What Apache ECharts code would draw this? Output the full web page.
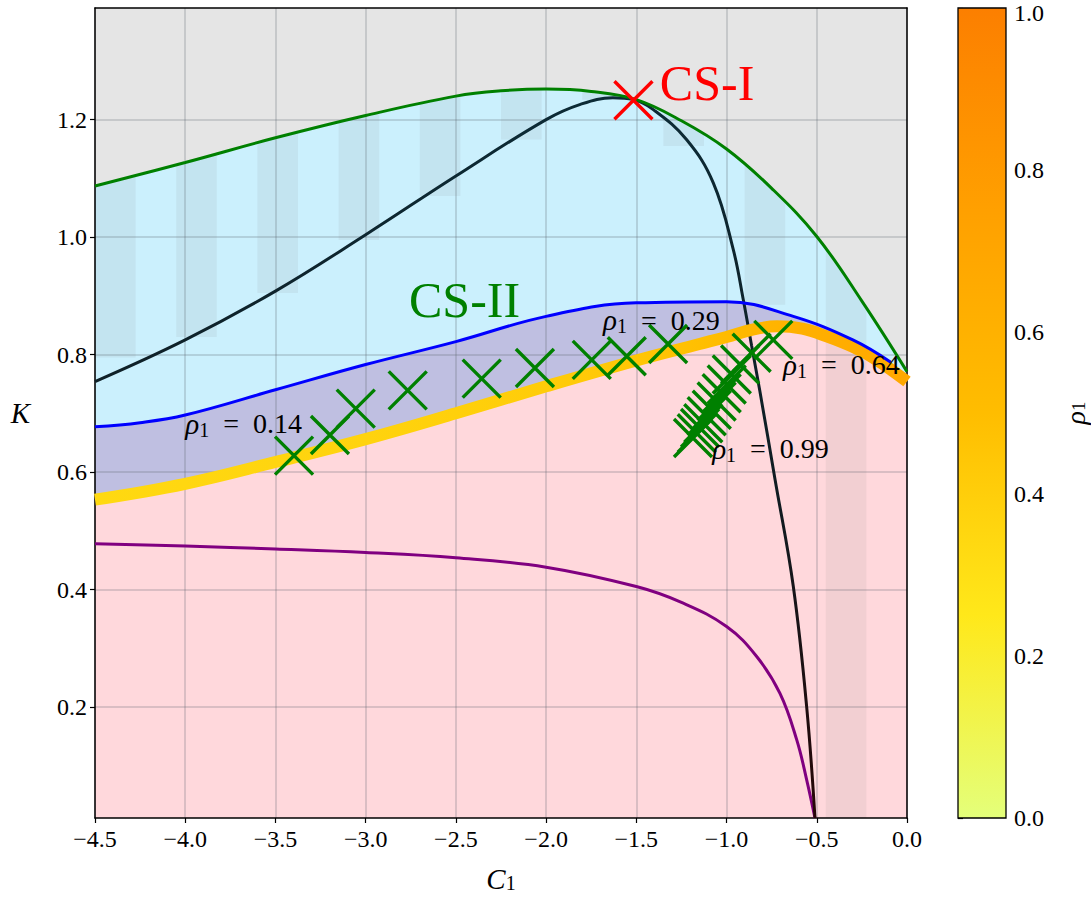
<!DOCTYPE html>
<html><head><meta charset="utf-8">
<script src="https://cdn.jsdelivr.net/npm/echarts@6/dist/echarts.min.js"></script>
<style>html,body{margin:0;padding:0;background:#fff}#c{width:1091px;height:899px}</style>
</head><body><div id="c"></div>
<script>
// ---------- data ----------
const greenX = [-4.5,-4.0,-3.5,-3.0,-2.5,-2.25,-2.0,-1.75,-1.5,-1.25,-1.0,-0.75,-0.5,-0.25,0.0];
const greenK = [1.087,1.127,1.169,1.207,1.240,1.249,1.252,1.248,1.234,1.198,1.150,1.083,1.001,0.891,0.771];

const blackX = [-4.5,-4.0,-3.5,-3.0,-2.5,-2.0,-1.81,-1.63,-1.516,-1.406,-1.222,-1.073,-0.963,-0.907,-0.861,-0.815,-0.731,-0.63,-0.556,-0.51];
const blackK = [0.754,0.825,0.908,1.004,1.104,1.200,1.226,1.237,1.234,1.217,1.166,1.092,0.979,0.893,0.815,0.737,0.587,0.405,0.200,0.011];

const blueX = [-4.5,-4.25,-4.0,-3.5,-3.0,-2.5,-2.0,-1.5,-1.0,-0.63,-0.3,-0.09];
const blueK = [0.677,0.684,0.697,0.740,0.783,0.822,0.865,0.888,0.890,0.865,0.825,0.787];

const thickX = [-4.5,-4.0,-3.5,-3.0,-2.5,-2.0,-1.5,-1.15,-1.0,-0.85,-0.72,-0.58,-0.445,-0.3,-0.168,0.0];
const thickK = [0.553,0.580,0.617,0.656,0.700,0.746,0.790,0.818,0.830,0.843,0.848,0.844,0.831,0.813,0.791,0.754];
const thickRho = [0.34,0.35,0.36,0.37,0.39,0.41,0.45,0.49,0.52,0.56,0.58,0.61,0.63,0.65,0.66,0.68];

const purpleX = [-4.5,-4.0,-3.5,-3.0,-2.5,-2.0,-1.5,-1.25,-1.0,-0.833,-0.704,-0.611,-0.556,-0.51];
const purpleK = [0.478,0.474,0.469,0.463,0.454,0.438,0.405,0.378,0.337,0.286,0.223,0.144,0.076,0.011];

const markerX = [-3.397,-3.198,-3.055,-2.767,-2.357,-2.062,-1.747,-1.553,-1.324,-0.741,-0.861,-0.925,-0.971,-0.999,-1.027,-1.055,-1.082,-1.110,-1.129,-1.147,-1.165,-1.186];
const markerK = [0.628,0.663,0.708,0.739,0.759,0.777,0.791,0.797,0.818,0.825,0.803,0.783,0.766,0.749,0.734,0.720,0.706,0.695,0.683,0.675,0.666,0.658];

const csIX = [-1.516];
const csIK = [1.233];

const stripeX0 = [-4.5,-4.05,-3.6,-3.15,-2.7,-2.25,-1.8,-1.35,-0.9,-0.45];
const stripeBottom = [0.795,0.83,0.905,0.995,1.07,1.166,1.234,1.155,0.885,0.011];

const csLabelText = ['CS-I','CS-II'];
const csLabelX = [-1.37,-2.76];
const csLabelK = [1.262,0.893];

const rhoLabelText = ['0.14','0.29','0.64','0.99'];
const rhoLabelX = [-4.00,-1.685,-0.687,-1.08];
const rhoLabelK = [0.682,0.858,0.783,0.640];

const xTickStep = 0.5;
const yTicks = [0.2,0.4,0.6,0.8,1.0,1.2];
const cbTickStep = 0.2;

// ---------- styles ----------
const X_MIN = -4.5, X_MAX = 0.0, Y_MIN = 0.011, Y_MAX = 1.39;
const STRIPE_W = 0.225;
const FONT = "'Liberation Serif', 'Times New Roman', serif";
const wistiaPos = [0, 0.25, 0.5, 0.75, 1];
const wistiaRGB = [[228,255,122],[255,232,26],[255,189,0],[255,160,0],[252,127,0]];
function wistia(t){
  t = Math.max(0, Math.min(1, t));
  let i = 0;
  while (i < wistiaPos.length - 2 && t > wistiaPos[i+1]) i++;
  const f = (t - wistiaPos[i]) / (wistiaPos[i+1] - wistiaPos[i]);
  const a = wistiaRGB[i], b = wistiaRGB[i+1];
  const c = a.map((v,k)=>Math.round(v + (b[k]-v)*f));
  return 'rgb(' + c.join(',') + ')';
}
const zip = (xs, ys) => xs.map((x,i)=>[x, ys[i]]);
const fmtNum = v => (v < -1e-9 ? '\u2212' : '') + Math.abs(v).toFixed(1);
const gridLine = {show:true, lineStyle:{color:'rgba(90,100,110,0.30)', width:1.5}};
const tickStyle = {show:true, inside:false, length:5, lineStyle:{color:'#000', width:1.2}};
const labelStyle = {color:'#000', fontFamily:FONT, fontSize:24, lineHeight:14};
function subRich(mainSize, mainLH, subSize, subLH){
  return {
    i:{fontFamily:FONT, fontStyle:'italic', fontSize:mainSize, color:'#000', lineHeight:mainLH},
    s:{fontFamily:FONT, fontSize:subSize, color:'#000', verticalAlign:'bottom', lineHeight:subLH},
    t:{fontFamily:FONT, fontSize:mainSize - 1, color:'#000', lineHeight:mainLH}
  };
}
const richLabel = subRich(29, 32, 20, 18);
const richName = subRich(29, 28, 20, 14);
const richCb = subRich(28, 26, 19, 12);
const cbLabelRich = {top:{fontFamily:FONT, fontSize:24, color:'#000', lineHeight:14, padding:[10,0,0,0]}};

const thickGradient = new echarts.graphic.LinearGradient(0,0,1,0,
  thickX.map((x,i)=>({offset:(x - X_MIN)/(X_MAX - X_MIN), color:wistia(thickRho[i])})));
const blackGradient = new echarts.graphic.LinearGradient(0,0,0,1,[
  {offset:0, color:'#0c2b36'},{offset:0.55, color:'#101c22'},{offset:1, color:'#260606'}]);
const cbGradient = new echarts.graphic.LinearGradient(0,1,0,0,
  wistiaPos.map((p,i)=>({offset:p, color:'rgb(' + wistiaRGB[i].join(',') + ')'})));

const xSym = 'path://M0 0L1 1M1 0L0 1';
const smooth = 0.4;

const chart = echarts.init(document.getElementById('c'), null, {renderer:'svg'});
chart.setOption({
  animation:false,
  backgroundColor:'#fff',
  grid:[
    {left:95, top:8, width:812, height:810, show:true, backgroundColor:'#cbf0fd', borderWidth:0,
     containLabel:false, outerBoundsMode:'none'},
    {left:958, top:8, width:48, height:810, show:false, containLabel:false, outerBoundsMode:'none'}
  ],
  xAxis:[
    {type:'value', gridIndex:0, min:X_MIN, max:X_MAX, interval:xTickStep, z:5,
     axisLine:{show:true, onZero:false, lineStyle:{color:'#000', width:1.5}},
     axisTick:tickStyle, axisLabel:Object.assign({formatter:fmtNum, margin:14}, labelStyle),
     splitLine:gridLine,
     name:'{i|C}{s|1}', nameLocation:'middle', nameGap:47,
     nameTextStyle:{rich:richName}},
    {type:'value', gridIndex:0, position:'top', min:X_MIN, max:X_MAX, z:5,
     axisLine:{show:true, onZero:false, lineStyle:{color:'#000', width:1.5}},
     axisTick:{show:false}, axisLabel:{show:false}, splitLine:{show:false}},
    {type:'value', gridIndex:1, min:0, max:1, show:false}
  ],
  yAxis:[
    {type:'value', gridIndex:0, min:Y_MIN, max:Y_MAX, z:5,
     axisLine:{show:true, onZero:false, lineStyle:{color:'#000', width:1.5}},
     axisTick:Object.assign({customValues:yTicks}, tickStyle),
     axisLabel:Object.assign({customValues:yTicks, formatter:v=>v.toFixed(1), margin:8}, labelStyle),
     splitLine:gridLine,
     name:'{i|K}', nameLocation:'middle', nameRotate:0, nameGap:65,
     nameTextStyle:{rich:richName}},
    {type:'value', gridIndex:0, position:'right', min:Y_MIN, max:Y_MAX, z:5,
     axisLine:{show:true, onZero:false, lineStyle:{color:'#000', width:1.5}},
     axisTick:{show:false}, axisLabel:{show:false}, splitLine:{show:false}},
    {type:'value', gridIndex:1, position:'right', min:0, max:1, interval:cbTickStep,
     axisLine:{show:false}, axisTick:tickStyle,
     axisLabel:Object.assign({formatter:v=> v >= 1 ? '{top|' + v.toFixed(1) + '}' : v.toFixed(1),
       margin:8, rich:cbLabelRich}, labelStyle),
     splitLine:{show:false},
     name:'{i|ρ}{s|1}', nameLocation:'middle', nameRotate:90, nameGap:56,
     nameTextStyle:{rich:richCb}}
  ],
  series:[
    {name:'lavenderFill', type:'line', data:zip(blueX, blueK), smooth:smooth, symbol:'none', silent:true, z:1,
     lineStyle:{width:0}, areaStyle:{color:'#bfbfe1', opacity:1, origin:'start'}},
    {name:'pinkFill', type:'line', data:zip(thickX, thickK), smooth:smooth, symbol:'none', silent:true, z:2,
     lineStyle:{width:0}, areaStyle:{color:'#ffd8dc', opacity:1, origin:'start'}},
    {name:'stripes', type:'custom', silent:true, z:3,
     data:zip(stripeX0, stripeBottom),
     renderItem:function(params, api){
       const x0 = api.value(0), b = api.value(1);
       const p0 = api.coord([x0, Y_MAX]);
       const p1 = api.coord([x0 + STRIPE_W, b]);
       return {type:'rect', shape:{x:p0[0], y:p0[1], width:p1[0]-p0[0], height:p1[1]-p0[1]},
               style:{fill:'rgba(128,128,128,0.10)'}};
     }},
    {name:'grayFill', type:'line', data:zip(greenX, greenK), smooth:smooth, symbol:'none', silent:true, z:4,
     lineStyle:{width:0}, areaStyle:{color:'#e5e5e5', opacity:1, origin:'end'}},
    {name:'purple', type:'line', data:zip(purpleX, purpleK), smooth:smooth, symbol:'none', z:6,
     lineStyle:{color:'#800080', width:3}},
    {name:'black', type:'line', data:zip(blackX, blackK), smooth:smooth, symbol:'none', z:6,
     lineStyle:{color:blackGradient, width:3}},
    {name:'green', type:'line', data:zip(greenX, greenK), smooth:smooth, symbol:'none', z:6,
     lineStyle:{color:'#008000', width:3}},
    {name:'thick', type:'line', data:zip(thickX, thickK), smooth:smooth, symbol:'none', z:7,
     lineStyle:{color:thickGradient, width:12}},
    {name:'blue', type:'line', data:zip(blueX, blueK), smooth:smooth, symbol:'none', z:8,
     lineStyle:{color:'#0000ff', width:3}},
    {name:'markers', type:'scatter', data:zip(markerX, markerK), symbol:xSym, symbolSize:38, z:9,
     itemStyle:{color:'transparent', borderColor:'#008000', borderWidth:3.4, opacity:1}},
    {name:'csI', type:'scatter', data:zip(csIX, csIK), symbol:xSym, symbolSize:38, z:9,
     itemStyle:{color:'transparent', borderColor:'#ff0000', borderWidth:3.4, opacity:1}},
    {name:'csLabels', type:'scatter', z:10, silent:true, symbolSize:0.1,
     itemStyle:{color:'transparent', opacity:1},
     data:csLabelX.map((x,i)=>({value:[x, csLabelK[i]], label:{color: i===0 ? '#ff0000' : '#008000'}})),
     label:{show:true, position:'right', distance:0, fontFamily:FONT, fontSize:50,
       formatter:p=>csLabelText[p.dataIndex]}},
    {name:'rhoLabels', type:'scatter', data:zip(rhoLabelX, rhoLabelK), symbolSize:0.1, z:10, silent:true,
     itemStyle:{color:'transparent', opacity:1},
     label:{show:true, position:'right', distance:0,
       formatter:p=>'{i|ρ}{s|1}{t|  =  ' + rhoLabelText[p.dataIndex] + '}', rich:richLabel}},
    {name:'colorbar', type:'custom', xAxisIndex:2, yAxisIndex:2, silent:true, data:[[0,0]],
     renderItem:function(params, api){
       const p0 = api.coord([0, 1]);
       const p1 = api.coord([1, 0]);
       return {type:'rect', shape:{x:p0[0], y:p0[1], width:p1[0]-p0[0], height:p1[1]-p0[1]},
               style:{fill:cbGradient, stroke:'#000', lineWidth:1.3}};
     }}
  ]
});
</script></body></html>
